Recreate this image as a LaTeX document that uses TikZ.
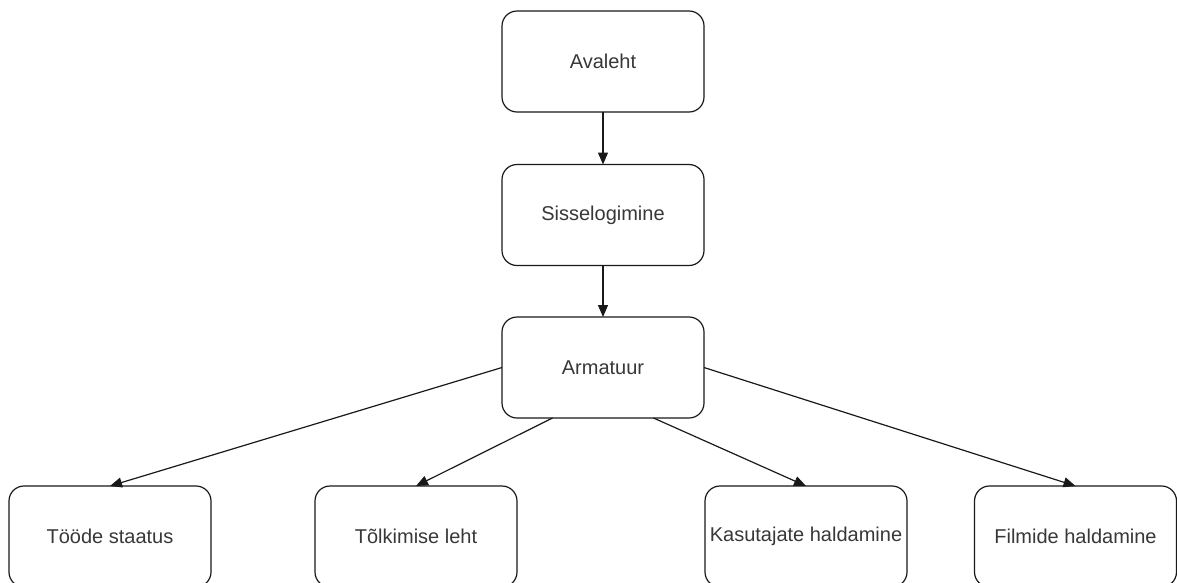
\documentclass[tikz,border=0pt]{standalone}
\usepackage{fontspec}
\setmainfont{Liberation Sans}
\usetikzlibrary{arrows.meta,calc}
\begin{document}
\begin{tikzpicture}[x=1pt,y=-1pt,
  box/.style={draw=black!90, line width=1.2pt, rounded corners=15pt,
    minimum width=202pt, minimum height=101pt, inner sep=0pt, outer sep=0pt,
    fill=white, text=black!78, font=\fontsize{20}{24}\selectfont},
  conn/.style={draw=black!90, line width=1.2pt, -{Triangle[length=12pt,width=10pt]}}]
\useasboundingbox (0,0) rectangle (1177,582);
\clip (0,0) rectangle (1177,582);
\node[box] (av) at (603,61.5) {Avaleht};
\node[box] (si) at (603,215) {Sisselogimine};
\node[box] (ar) at (603,367.5) {Armatuur};
\node[box] (t1) at (110,536.5) {Tööde staatus};
\node[box] (t2) at (416,536.5) {Tõlkimise leht};
\node[box] (t3) at (806,536.5) {Kasutajate haldamine};
\node[box] (t4) at (1075.5,536.5) {Filmide haldamine};
\draw[conn] (av.south) -- (si.north);
\draw[conn] (si.south) -- (ar.north);
\draw[conn] (ar.west) -- (t1.north);
\draw[conn] ($(ar.south west)!0.25!(ar.south east)$) -- (t2.north);
\draw[conn] ($(ar.south west)!0.75!(ar.south east)$) -- (t3.north);
\draw[conn] (ar.east) -- (t4.north);
\end{tikzpicture}
\end{document}
